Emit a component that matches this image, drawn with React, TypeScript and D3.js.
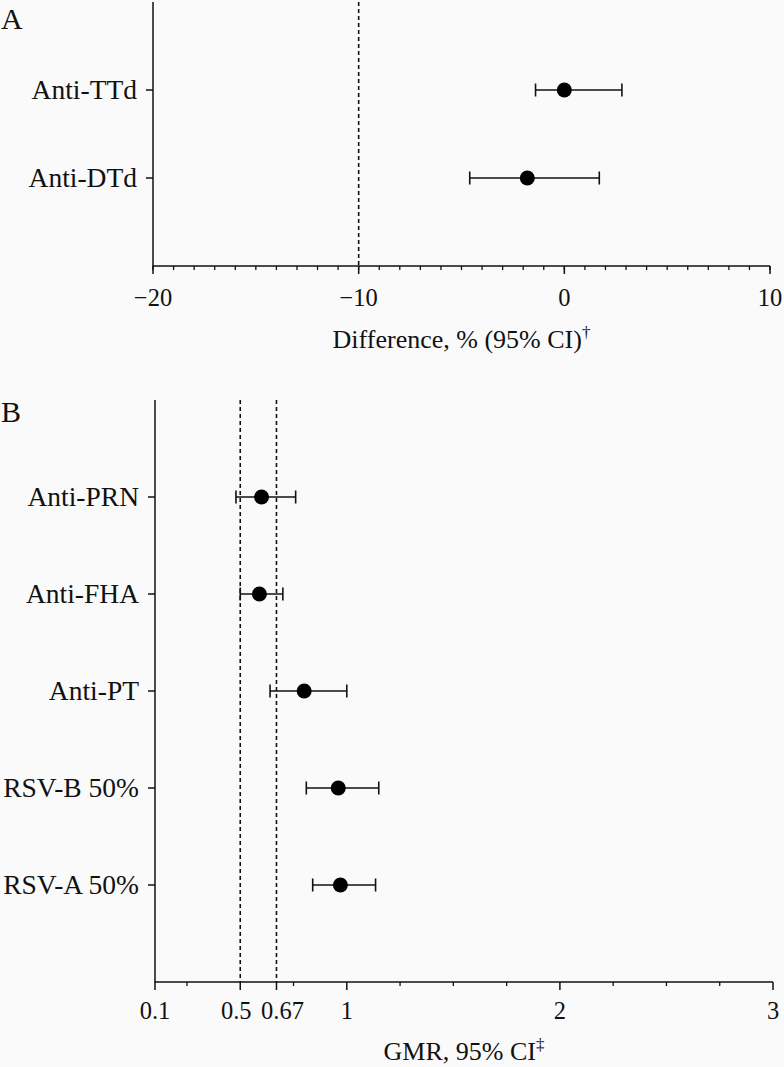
import React from "react";
import * as d3 from "d3";

// Panel A data
const aLabels = ["Anti-TTd", "Anti-DTd"];
const aEst = [0.0, -1.8];
const aLow = [-1.4, -4.6];
const aHigh = [2.8, 1.7];
const aTicks = [-20, -10, 0, 10];
const aMinor = d3.range(-20, 11, 1);
const aRef = [-10];

// Panel B data
const bLabels = ["Anti-PRN", "Anti-FHA", "Anti-PT", "RSV-B 50%", "RSV-A 50%"];
const bEst = [0.6, 0.59, 0.8, 0.96, 0.97];
const bLow = [0.48, 0.5, 0.64, 0.81, 0.84];
const bHigh = [0.76, 0.7, 1.0, 1.15, 1.135];
const bTicks = [0.1, 0.5, 0.67, 1, 2, 3];
const bTickLabels = ["0.1", "0.5", "0.67", "1", "2", "3"];
const bMinor = [0.25, 0.75, 1.25, 1.5, 1.75, 2.25, 2.5, 2.75];
const bRef = [0.5, 0.67];

const FONT = "'Liberation Serif', 'DejaVu Serif', serif";
const INK = "#111";

type PanelProps = {
  letter: string;
  letterY: number;
  labels: string[];
  est: number[];
  low: number[];
  high: number[];
  xDomain: [number, number];
  xRange: [number, number];
  yTop: number;
  yBottom: number;
  majorTicks: number[];
  majorLabels: string[];
  labelShift: number[];
  minorTicks: number[];
  refs: number[];
  tickLabelY: number;
  title: string;
  titleSup: string;
  titleY: number;
};

function Panel(p: PanelProps) {
  const x = d3.scaleLinear().domain(p.xDomain).range(p.xRange);
  const n = p.labels.length;
  const y = d3.scaleLinear().domain([0, n + 1]).range([p.yTop, p.yBottom]);
  const x0 = p.xRange[0];
  const cx = (p.xRange[0] + p.xRange[1]) / 2;
  return (
    <g>
      <text x={1} y={p.letterY} fontFamily={FONT} fontSize={30} fill={INK}>
        {p.letter}
      </text>
      {p.refs.map((r, i) => (
        <line
          key={"r" + i}
          x1={x(r)}
          x2={x(r)}
          y1={p.yTop}
          y2={p.yBottom}
          stroke={INK}
          strokeWidth={1.6}
          strokeDasharray="4,3"
        />
      ))}
      <line x1={x0} x2={x0} y1={p.yTop} y2={p.yBottom + 0.75} stroke={INK} strokeWidth={1.5} />
      {p.labels.map((l, i) => (
        <g key={"yl" + i}>
          <line x1={x0 - 7} x2={x0} y1={y(i + 1)} y2={y(i + 1)} stroke={INK} strokeWidth={1.5} />
          <text
            x={x0 - 16}
            y={y(i + 1)}
            dy="0.33em"
            textAnchor="end"
            fontFamily={FONT}
            fontSize={27.5}
            fill={INK}
          >
            {l}
          </text>
        </g>
      ))}
      <line x1={x0} x2={p.xRange[1]} y1={p.yBottom} y2={p.yBottom} stroke={INK} strokeWidth={1.5} />
      {p.minorTicks.map((t, i) => (
        <line
          key={"m" + i}
          x1={x(t)}
          x2={x(t)}
          y1={p.yBottom}
          y2={p.yBottom + 4}
          stroke={INK}
          strokeWidth={1.3}
        />
      ))}
      {p.majorTicks.map((t, i) => (
        <g key={"t" + i}>
          <line x1={x(t)} x2={x(t)} y1={p.yBottom} y2={p.yBottom + 8} stroke={INK} strokeWidth={1.5} />
          <text
            x={x(t) + p.labelShift[i]}
            y={p.tickLabelY}
            textAnchor="middle"
            fontFamily={FONT}
            fontSize={24.5}
            fill={INK}
          >
            {p.majorLabels[i]}
          </text>
        </g>
      ))}
      <text x={cx} y={p.titleY} textAnchor="middle" fontFamily={FONT} fontSize={26} fill={INK}>
        {p.title}
        <tspan fontSize={17} dy={-10}>
          {p.titleSup}
        </tspan>
      </text>
      {p.labels.map((l, i) => {
        const yy = y(i + 1);
        return (
          <g key={"p" + i}>
            <line x1={x(p.low[i])} x2={x(p.high[i])} y1={yy} y2={yy} stroke={INK} strokeWidth={1.6} />
            <line x1={x(p.low[i])} x2={x(p.low[i])} y1={yy - 6.5} y2={yy + 6.5} stroke={INK} strokeWidth={1.6} />
            <line x1={x(p.high[i])} x2={x(p.high[i])} y1={yy - 6.5} y2={yy + 6.5} stroke={INK} strokeWidth={1.6} />
            <circle cx={x(p.est[i])} cy={yy} r={7.5} fill="#000" />
          </g>
        );
      })}
    </g>
  );
}

export default function App() {
  return (
    <svg
      width={784}
      height={1067}
      style={{ position: "absolute", left: 0, top: 0, background: "#fafafa" }}
    >
      <rect x={0} y={0} width={784} height={1067} fill="#fafafa" />
      <Panel
        letter="A"
        letterY={29}
        labels={aLabels}
        est={aEst}
        low={aLow}
        high={aHigh}
        xDomain={[-20, 10]}
        xRange={[153, 770]}
        yTop={2}
        yBottom={266}
        majorTicks={aTicks}
        majorLabels={aTicks.map((t) => (t < 0 ? "\u2212" + Math.abs(t) : String(t)))}
        labelShift={[0, 0, 0, 0]}
        minorTicks={aMinor}
        refs={aRef}
        tickLabelY={306}
        title="Difference, % (95% CI)"
        titleSup={"\u2020"}
        titleY={348}
      />
      <Panel
        letter="B"
        letterY={422}
        labels={bLabels}
        est={bEst}
        low={bLow}
        high={bHigh}
        xDomain={[0.1, 3]}
        xRange={[155, 773]}
        yTop={400}
        yBottom={982}
        majorTicks={bTicks}
        majorLabels={bTickLabels}
        labelShift={[0, -4, 6, 0, 0, 0]}
        minorTicks={bMinor}
        refs={bRef}
        tickLabelY={1019}
        title="GMR, 95% CI"
        titleSup={"\u2021"}
        titleY={1060}
      />
    </svg>
  );
}
